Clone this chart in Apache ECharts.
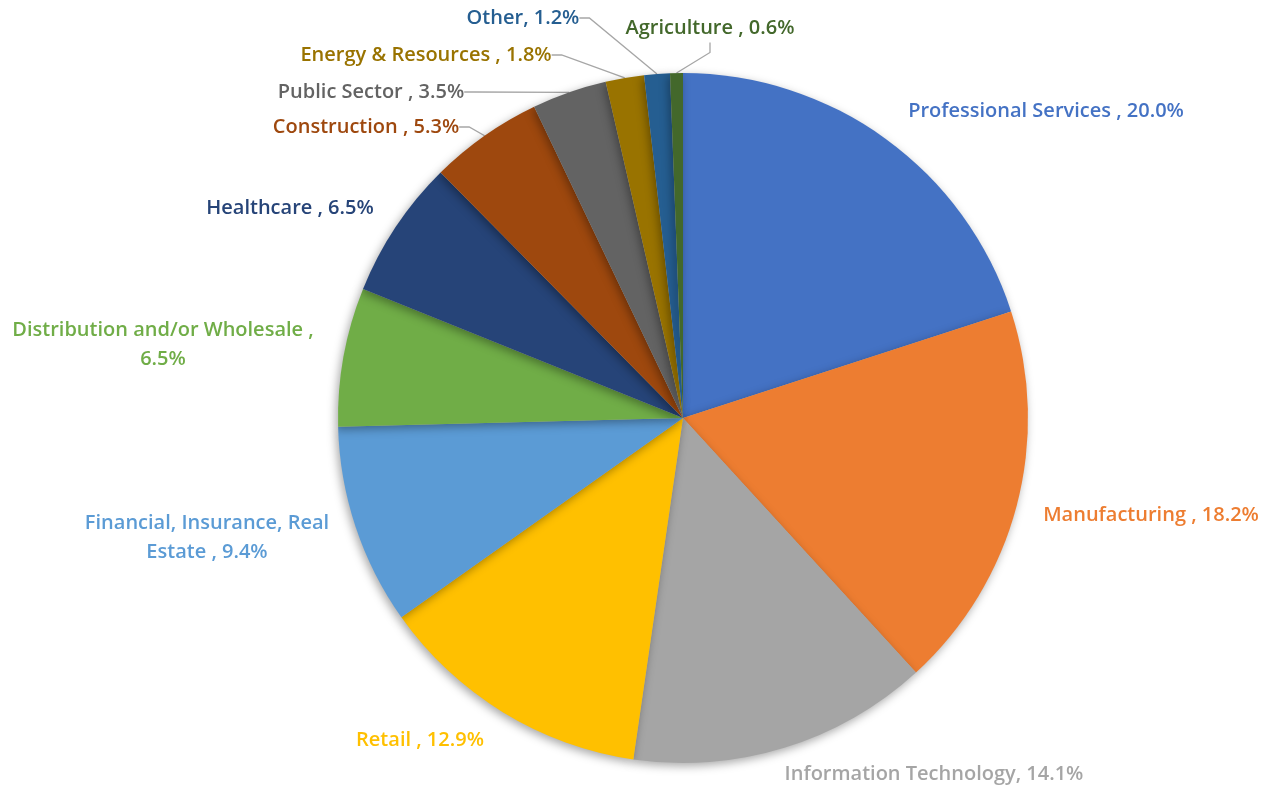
<!DOCTYPE html>
<html>
<head>
<meta charset="utf-8">
<script src="https://cdn.jsdelivr.net/npm/echarts@6/dist/echarts.min.js"></script>
<style>
  html, body { margin: 0; padding: 0; background: #ffffff; }
  #chart { width: 1280px; height: 791px; }
</style>
</head>
<body>
<div id="chart"></div>
<script>
// Industry share of respondents (%), clockwise from 12 o'clock
const categories = [
  'Professional Services ', 'Manufacturing ', 'Information Technology',
  'Retail ', 'Financial, Insurance, Real\nEstate ', 'Distribution and/or Wholesale ,\n',
  'Healthcare ', 'Construction ', 'Public Sector ', 'Energy & Resources ',
  'Other', 'Agriculture '
];
const shares = [20.0, 18.2, 14.1, 12.9, 9.4, 6.5, 6.5, 5.3, 3.5, 1.8, 1.2, 0.6];
const colors = [
  '#4472C4', '#ED7D31', '#A5A5A5', '#FFC000', '#5B9BD5', '#70AD47',
  '#264478', '#9E480E', '#636363', '#997300', '#255E91', '#43682B'
];
// Slices whose label is joined to them by a leader line
const withLeader = [false, false, false, false, false, false, false, true, true, true, true, true];

// Label anchor points (label centre) for each slice
const labelSpots = [
  [1046, 111], [1151, 515], [934, 774], [420, 740], [207, 538], [163, 345],
  [290, 208], [366, 127], [371, 92], [426, 55], [523, 18], [710, 28]
];

const chart = echarts.init(document.getElementById('chart'), null, { renderer: 'canvas' });

const data = categories.map((name, i) => ({
  name: name,
  value: shares[i],
  itemStyle: { color: colors[i] },
  label: {
    color: colors[i],
    formatter: name.endsWith('\n') ? name + shares[i].toFixed(1) + '%'
                                   : name + ', ' + shares[i].toFixed(1) + '%'
  },
  labelLine: { show: withLeader[i] }
}));

chart.setOption({
  animation: false,
  backgroundColor: '#ffffff',
  series: [{
    type: 'pie',
    center: [683, 418],
    radius: [0, 345],
    startAngle: 90,
    clockwise: true,
    avoidLabelOverlap: false,
    data: data,
    itemStyle: {
      shadowBlur: 10,
      shadowColor: 'rgba(0,0,0,0.35)',
      shadowOffsetX: -2,
      shadowOffsetY: 3
    },
    label: {
      show: true,
      position: 'outside',
      fontFamily: '"Open Sans", Lato, sans-serif',
      fontWeight: 600,
      fontSize: 20,
      lineHeight: 29,
      align: 'center'
    },
    labelLine: {
      show: true,
      length: 10,
      length2: 10,
      smooth: false,
      lineStyle: { color: '#A6A6A6', width: 1.3 }
    },
    labelLayout: function (params) {
      const p = labelSpots[params.dataIndex];
      return {
        x: p[0],
        y: p[1],
        align: 'center',
        verticalAlign: 'middle',
        hideOverlap: false
      };
    }
  }]
});
</script>
</body>
</html>
